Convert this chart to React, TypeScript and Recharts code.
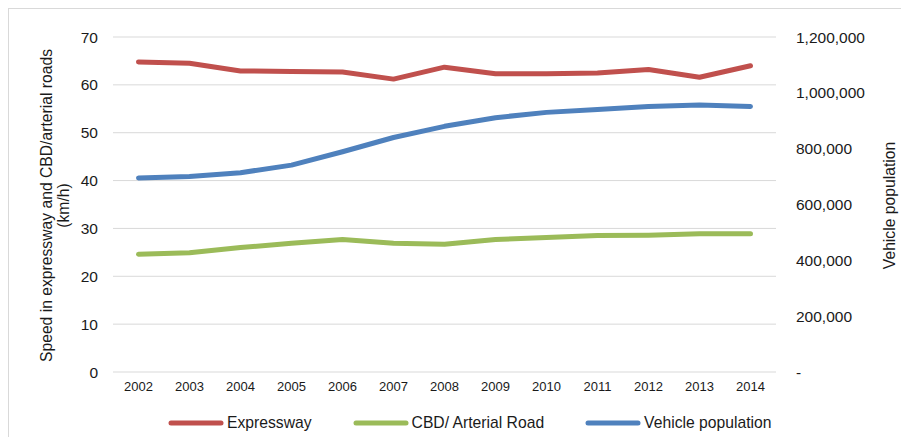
import { LineChart, Line, XAxis, YAxis, CartesianGrid, Legend } from 'recharts';

const YEARS = ['2002', '2003', '2004', '2005', '2006', '2007', '2008', '2009', '2010', '2011', '2012', '2013', '2014'];
const EXPRESSWAY = [64.8, 64.5, 62.9, 62.8, 62.7, 61.2, 63.7, 62.3, 62.3, 62.5, 63.2, 61.6, 64.0];
const CBD_ARTERIAL = [24.6, 24.9, 26.0, 26.9, 27.7, 26.9, 26.7, 27.7, 28.1, 28.5, 28.6, 28.9, 28.9];
const VEHICLES = [695000, 700000, 714000, 741000, 789000, 840000, 880000, 911000, 930000, 940000, 951000, 956000, 951000];

const SPEED_TICKS = [0, 10, 20, 30, 40, 50, 60, 70];
const VEHICLE_TICKS = [0, 200000, 400000, 600000, 800000, 1000000, 1200000];

const SERIES = [
  { key: 'Expressway', color: '#C0504D' },
  { key: 'CBD/ Arterial Road', color: '#9BBB59' },
  { key: 'Vehicle population', color: '#4F81BD' },
];

const FONT = '"Liberation Sans", Arial, sans-serif';

const chartData = YEARS.map((year, i) => ({
  year,
  'Expressway': EXPRESSWAY[i],
  'CBD/ Arterial Road': CBD_ARTERIAL[i],
  'Vehicle population': VEHICLES[i],
}));

const formatVehicles = (v: number) => (v === 0 ? '-' : v.toLocaleString('en-US'));

function LeftLabel() {
  return (
    <text transform="translate(37, 196.5) rotate(-90)" textAnchor="middle" fontSize={15.7} fill="#1a1a1a" fontFamily={FONT}>
      <tspan x={0} dy="0.35em">Speed in expressway and CBD/arterial roads</tspan>
      <tspan x={0} dy={18}>(km/h)</tspan>
    </text>
  );
}

function RightLabel() {
  return (
    <text transform="translate(880, 196.5) rotate(-90)" textAnchor="middle" fontSize={15.7} fill="#1a1a1a" fontFamily={FONT} dy="0.35em">
      Vehicle population
    </text>
  );
}

function LegendContent() {
  return (
    <div style={{ display: 'flex', alignItems: 'center', paddingLeft: 159, fontFamily: FONT, fontSize: 15.7, color: '#1a1a1a' }}>
      {SERIES.map((s, i) => (
        <div key={s.key} style={{ display: 'flex', alignItems: 'center', marginLeft: i === 0 ? 0 : 41 }}>
          <svg width={56} height={6} style={{ marginRight: 3 }}>
            <line x1={3} y1={3} x2={53} y2={3} stroke={s.color} strokeWidth={5} strokeLinecap="round" />
          </svg>
          <span>{s.key}</span>
        </div>
      ))}
    </div>
  );
}

export default function App() {
  // absolute so the page never grows past the window (no scrollbar)
  return (
    <div style={{ position: 'absolute', top: 8, left: 8, width: 892, height: 428, borderTop: '1px solid #d9d9d9', borderLeft: '1px solid #d9d9d9', overflow: 'hidden' }}>
      <LineChart width={892} height={428} data={chartData} margin={{ top: 28, right: 0, bottom: 30, left: 0 }}>
        <CartesianGrid vertical={false} stroke="#d9d9d9" yAxisId="speed" />
        <XAxis
          dataKey="year"
          tickLine={false}
          axisLine={false}
          tickSize={0}
          tickMargin={10}
          height={35}
          padding={{ left: 25.5, right: 25.5 }}
          tick={{ fontSize: 13, fill: '#1a1a1a', fontFamily: FONT }}
          interval={0}
        />
        <YAxis
          yAxisId="speed"
          orientation="left"
          width={104}
          domain={[0, 70]}
          ticks={SPEED_TICKS}
          tickLine={false}
          axisLine={false}
          tickSize={0}
          tickMargin={15}
          tick={{ fontSize: 15.5, fill: '#1a1a1a', fontFamily: FONT }}
          label={<LeftLabel />}
        />
        <YAxis
          yAxisId="vehicles"
          orientation="right"
          width={125}
          domain={[0, 1200000]}
          ticks={VEHICLE_TICKS}
          tickLine={false}
          axisLine={false}
          tickSize={0}
          tickMargin={20}
          tickFormatter={formatVehicles}
          tick={{ fontSize: 15.5, fill: '#1a1a1a', fontFamily: FONT }}
          label={<RightLabel />}
        />
        <Legend
          layout="horizontal"
          verticalAlign="middle"
          align="center"
          content={<LegendContent />}
          wrapperStyle={{ top: 405, left: 0, width: 892 }}
        />
        <Line yAxisId="speed" type="linear" dataKey="Expressway" stroke="#C0504D" strokeWidth={5} dot={false} strokeLinecap="round" strokeLinejoin="round" isAnimationActive={false} />
        <Line yAxisId="speed" type="linear" dataKey="CBD/ Arterial Road" stroke="#9BBB59" strokeWidth={5} dot={false} strokeLinecap="round" strokeLinejoin="round" isAnimationActive={false} />
        <Line yAxisId="vehicles" type="linear" dataKey="Vehicle population" stroke="#4F81BD" strokeWidth={5} dot={false} strokeLinecap="round" strokeLinejoin="round" isAnimationActive={false} />
      </LineChart>
    </div>
  );
}
